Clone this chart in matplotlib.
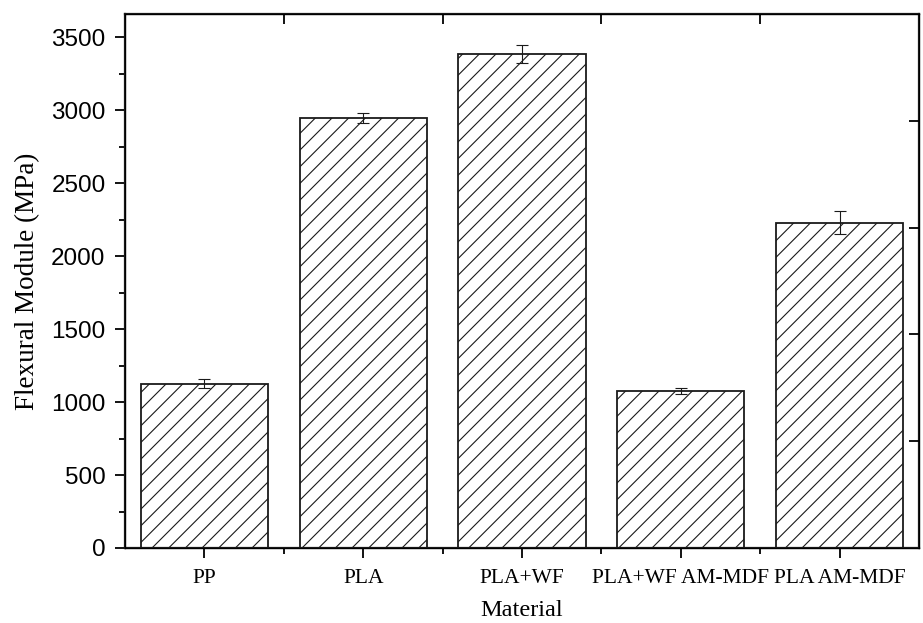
import numpy as np
import matplotlib
matplotlib.use("Agg")
import matplotlib.pyplot as plt

# data
materials = ["PP", "PLA", "PLA+WF", "PLA+WF AM-MDF", "PLA AM-MDF"]
modulus = [1125, 2945, 3388, 1075, 2230]
modulus_err = [30, 35, 62, 22, 80]

plt.rcParams['hatch.linewidth'] = 0.8
plt.rcParams['hatch.color'] = '#222222'

fig = plt.figure(figsize=(9.23, 6.23), dpi=100)
ax = fig.add_axes([0.1354, 0.1204, 0.8603, 0.8571])

x = np.arange(len(materials))
ax.bar(x, modulus, width=0.8, color='white', edgecolor='#1a1a1a',
       linewidth=1.3, hatch='//', zorder=2)
ax.errorbar(x, modulus, yerr=modulus_err, fmt='none', ecolor='#1a1a1a',
            elinewidth=0.8, capsize=4, capthick=0.8, zorder=3)

ax.set_xlim(-0.5, len(materials) - 0.5)
ax.set_ylim(0, 3660)

# left / bottom ticks
ax.set_yticks(np.arange(0, 3501, 500))
ax.set_yticks(np.arange(250, 3660, 500), minor=True)
ax.set_xticks(x)
ax.set_xticks(x[:-1] + 0.5, minor=True)
ax.set_xticklabels(materials, family='Liberation Serif', fontsize=15.5)
for lab in ax.get_yticklabels():
    lab.set_family('Liberation Sans')
    lab.set_fontsize(17.5)
ax.tick_params(axis='both', which='major', direction='out', length=7,
               width=1.3)
ax.tick_params(axis='x', which='major', pad=8)
ax.tick_params(axis='y', which='major', pad=7)
ax.tick_params(axis='both', which='minor', direction='out', length=4,
               width=1.3)

for s in ax.spines.values():
    s.set_linewidth(1.6)
    s.set_color('#1a1a1a')

# top ticks between categories, pointing in
ax_top = ax.twiny()
ax_top.set_xlim(ax.get_xlim())
ax_top.set_xticks(x[:-1] + 0.5)
ax_top.tick_params(axis='x', direction='in', length=7, width=1.3,
                   labeltop=False)

# right ticks, pointing in
ax_right = ax.twinx()
ax_right.set_ylim(0, 5)
ax_right.set_yticks([1, 2, 3, 4])
ax_right.tick_params(axis='y', direction='in', length=7, width=1.3,
                     labelright=False)

ax.set_xlabel("Material", family='Liberation Serif', fontsize=17.5,
              labelpad=9)
ax.set_ylabel("Flexural Module (MPa)", family='Liberation Serif',
              fontsize=19.5, labelpad=8)

fig.savefig("out.png", dpi=100)
